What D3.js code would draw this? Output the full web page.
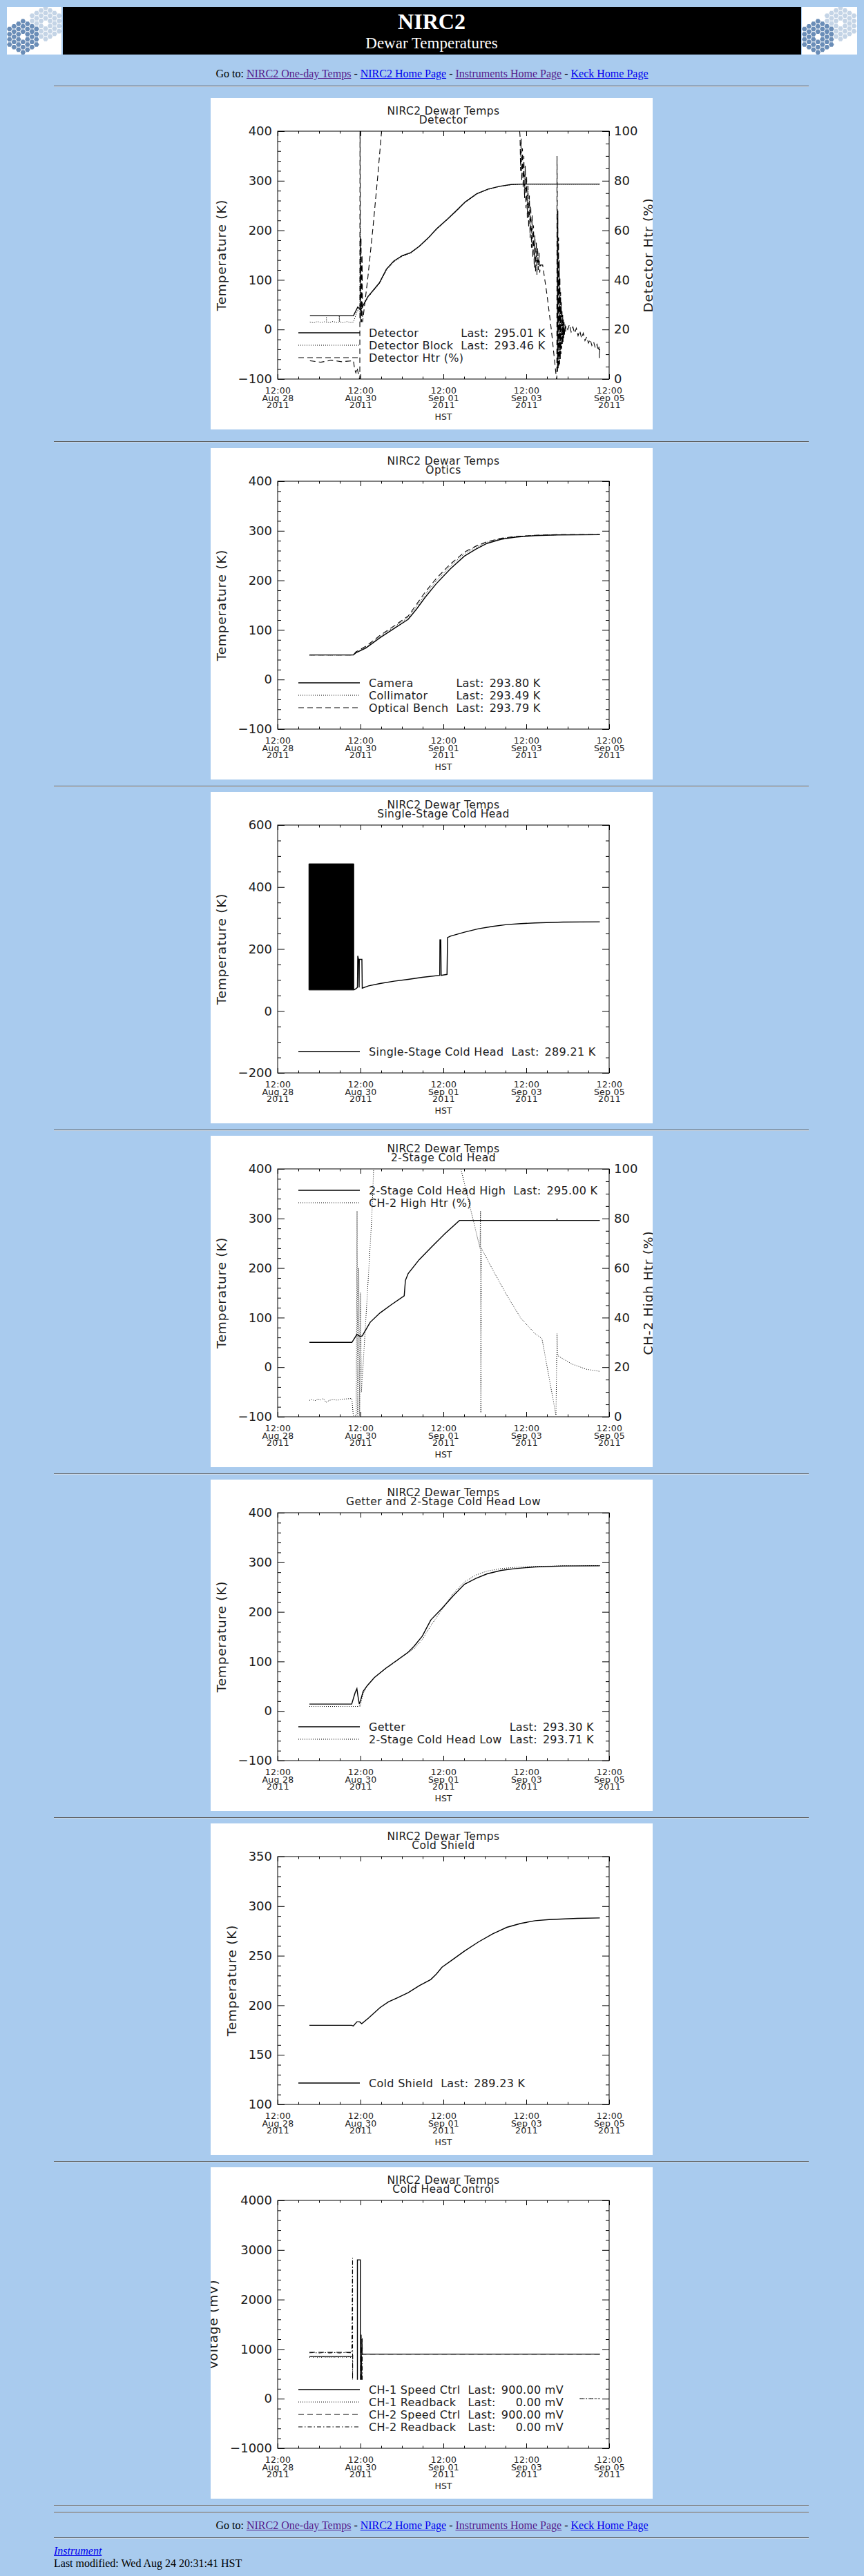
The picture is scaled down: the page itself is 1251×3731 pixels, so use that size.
<!DOCTYPE html>
<html lang="en">
<head>
  <meta charset="UTF-8">
  <title>NIRC2 Dewar Temperatures</title>
  <script src="https://d3js.org/d3.v7.min.js"></script>
  <style>
    body {
      margin: 0;
      width: 1251px;
      height: 3731px;
      overflow: hidden;
      position: relative;
      background: #a9cbee;
      font-family: "Liberation Serif", "Times New Roman", serif;
      color: #000;
    }
    .abs { position: absolute; }
    a { color: #0000ee; }
    a.seen { color: #551a8b; }

    .rule {
      position: absolute;
      left: 78px;
      width: 1093px;
      height: 0;
      border-top: 1px solid #5e5e5e;
      border-bottom: 1px solid #c9d9ea;
    }
    .nav {
      position: absolute;
      left: 0;
      width: 1251px;
      text-align: center;
      font-size: 16px;
      line-height: 18px;
    }
    .foot {
      position: absolute;
      left: 78px;
      font-size: 16px;
      line-height: 18px;
    }

    .plot { position: absolute; left: 305px; background: #fff; }
    .plot text { font-family: "DejaVu Sans", sans-serif; fill: #1c1c1c; }
    .ttl { font-size: 15.5px; letter-spacing: 0.4px; }
    .ytick text { font-size: 18px; }
    .xtick text { font-size: 12.5px; letter-spacing: 0.3px; }
    .axlab { font-size: 18.5px; letter-spacing: 0.8px; }
    .leg text { font-size: 16px; letter-spacing: 0.3px; white-space: pre; }
    .frame { fill: none; stroke: #000; stroke-width: 1; }

    .ln { fill: none; stroke: #000; }
    .solid { stroke-width: 1.4; }
    .dotted { stroke-width: 1; stroke-dasharray: 1 2; }
    .dashed { stroke-width: 1.1; stroke-dasharray: 8 5; }
    .dashdot { stroke-width: 1.1; stroke-dasharray: 6 3 1.5 3; }
    .band { fill: #000; stroke: #000; stroke-width: 1; }
  </style>
</head>
<body>
  <div class="abs" id="banner" style="left:10px; top:10px; width:1231px; height:69px;"></div>

  <div class="nav" style="top:98px">Go to: <a class="seen" href="#">NIRC2 One-day Temps</a> - <a href="#">NIRC2 Home Page</a> - <a class="seen" href="#">Instruments Home Page</a> - <a href="#">Keck Home Page</a></div>
  <div class="rule" style="top:124px"></div>

  <div id="plots"></div>

  <div class="nav" style="top:3649px">Go to: <a class="seen" href="#">NIRC2 One-day Temps</a> - <a href="#">NIRC2 Home Page</a> - <a class="seen" href="#">Instruments Home Page</a> - <a href="#">Keck Home Page</a></div>
  <div class="rule" style="top:3675px"></div>
  <div class="foot" style="top:3686px"><i><a href="#">Instrument</a></i></div>
  <div class="foot" style="top:3704px">Last modified: Wed Aug 24 20:31:41 HST</div>

  <script>
    // ---- data: hours after 12:00 HST Aug 28 2011, value ----
    const dateTicks = [0, 48, 96, 144, 192];

    // Detector (K, % for heater)
    const detector = [[18.7,27.6],[43.9,27.6],[46.4,45.2],[48.1,39.1],[52.2,66],[58.9,93.9],[63,121.7],[67.2,137.9],[72.1,148.6],[77.1,155.1],[82.1,168.1],[87.1,184.3],[92,202.9],[98.7,223.7],[103.6,240],[108.6,257.1],[115.3,273.8],[121.9,283.1],[128.5,288.7],[135.2,292.4],[141.8,293.3],[186.6,293.3]];
    const detectorBlock = [[18.7,15],[21,13.5],[23,16],[25,14],[27,15.5],[28.2,15],[28.2,27.6],[28.4,15],[30,13.8],[32,16.2],[34,14.2],[35.7,15],[35.7,27.6],[35.9,15],[38,13.6],[40,16],[42,14],[43.9,15],[46.4,40],[47.6,36],[47.8,233],[48.0,38],[49.5,47],[52.2,64],[58.9,92],[63,119],[67.2,136],[72.1,147.5],[77.1,154],[82.1,167],[87.1,183],[92,201.5],[98.7,222.5],[103.6,239],[108.6,256],[115.3,273],[121.9,282.5],[128.5,288.3],[135.2,292],[141.8,293],[186.6,293]];
    const detectorHtr = [[18.7,7.4],[25,6.8],[31,7.6],[37,7],[43.9,7.4],[44.6,4],[45.3,2.5],[46.0,4.6],[47.4,0],[47.6,0],[47.7,108],[48.0,23],[48.3,57],[48.6,23],[48.9,50],[49.2,23],[52.2,40.6],[55.2,61],[58,82],[60.2,100],[61,106],[139.5,106],
      [140.4,98],[140.7,84],[141.0,97],[141.4,80],[141.8,93],[142.2,77],[142.6,90],[143.0,73],[143.4,86],[143.8,69],[144.2,82],[144.6,65],[145.0,78],[145.4,61],[145.8,74],[146.2,57],[146.6,70],[147.0,53],[147.4,66],[147.8,49],[148.2,62],[148.6,45],[149.0,58],[149.4,43],[149.8,55],[150.2,42],[150.6,53],[151.0,44],[151.4,51],[151.8,43],[152.2,46],
      [153.5,46],[156,34],[158.5,20],[160.3,8],[161.5,0],[161.7,0],[161.8,90],
      [161.95,76],[162.1,3],[162.3,68],[162.5,4],[162.7,57],[162.9,5],[163.1,48],[163.3,6],[163.5,41],[163.7,8],[163.9,35],[164.1,10],[164.3,31],[164.5,12],[164.7,28],[164.9,14],[165.1,26],[165.3,15],[165.5,24],[165.7,16.5],[165.9,23],[166.1,17.5],[166.4,22],[166.7,19],[167.0,21.5],
      [168,20],[169,22],[170,19],[171,21],[172,18.5],[173,20.5],[174,17.5],[175,19.5],[176,16.5],[177,18.5],[178,15.5],[179,17],[180,14.5],[181,16],[182,13.5],[183,15],[184,12.5],[185,14],[185.6,11.5],[186.1,13],[186.3,8.5],[186.6,12]];

    // Optics (K)
    const camera = [[18.4,49.5],[43.8,49.5],[45.4,54],[51.1,63.4],[59.3,84.3],[67.4,102.9],[75.6,121.4],[80.5,142.3],[85.4,165.6],[91.9,193.4],[100.1,223.6],[108.2,249],[114.8,263],[121.3,274.7],[129.5,283],[137.6,287.2],[149.1,290.4],[162.1,291.8],[186.6,292.3]];
    const collimator = [[18.4,49.5],[43.8,49.5],[45.4,55],[51.1,65],[59.3,87],[67.4,106],[75.6,125],[80.5,148],[85.4,171],[91.9,199],[100.1,229],[108.2,254],[114.8,267],[121.3,277],[129.5,284.5],[137.6,288],[149.1,290.8],[162.1,292],[186.6,292.3]];
    const opticalBench = [[18.4,49.5],[43.8,49.5],[45.4,56],[51.1,67],[59.3,89],[67.4,108],[75.6,128],[80.5,152],[85.4,176],[91.9,204],[100.1,233],[108.2,257],[114.8,269],[121.3,278],[129.5,285],[137.6,288.5],[149.1,291],[162.1,292.2],[186.6,292.5]];

    // Single-stage cold head (K); band = [hour, low, high] of the fast oscillation
    const singleStageBand = [[18.1,67.7,475],[44.1,67.7,475]];
    const singleStage = [[44.1,67.7],[45.4,72],[46.2,76],[46.4,177.7],[46.9,165],[47.2,76],[47.3,166.5],[48.8,166.5],[49.0,73.6],[52.7,81],[59.3,88.5],[67.4,96],[75.6,102],[83.8,108.5],[93.9,115],[94.0,229.7],[94.5,229.7],[94.7,115],[98.1,118],[98.4,237],[100.1,241.6],[108.2,254.3],[116.4,265.4],[124.6,272.9],[132.7,278.8],[140.9,281.8],[149.1,284],[165.4,287],[186.6,287.7]];

    // 2-stage cold head high (K) and heater (%)
    const twoStageHigh = [[18.4,50],[43,50],[45.9,66],[47.8,62],[49,63],[53.6,90.7],[59.3,109.5],[65.8,126],[73.3,144],[74,175],[75.6,189],[82,217],[88.7,241],[96.8,269],[105.3,296],[161.6,296],[161.8,298],[162,296],[186.6,296]];
    const ch2HighHtr = [[18.4,6.6],[20,7.0],[21.5,6.4],[23.3,7.2],[25,6.8],[26.6,7.4],[28,5.8],[29.9,6.6],[32,6.9],[34.8,6.7],[37,7.1],[39.7,7.2],[43,7.4],[43.8,0.5],[45.5,0.3],[46.0,83],[46.4,0.5],[47.0,60],[47.5,0.3],[48.0,50],[48.5,10],[49.5,21],[52,50],[54.5,80],[55.7,102],[56,110],[105,110],[105.8,101],[117.2,68],[117.5,83],[117.7,1.6],[118,68],[124.5,59.4],[132.7,49.1],[140.9,39.7],[149,33.6],[153.1,31.5],[161.2,0.6],[161.8,33.5],[162.3,24.6],[170.4,21.3],[178.6,19.2],[186.6,18.3]];

    // Getter and 2-stage cold head low (K)
    const getter = [[18.4,14],[42.9,14],[43.9,25.6],[44.9,37.2],[45.9,45.1],[46.5,30.2],[47.3,14],[48.2,23.3],[49.5,39.5],[51.9,51.2],[56,67.4],[62.5,86],[69.1,102.3],[75.6,118.6],[78.9,130.2],[83.8,151.2],[88.7,183.7],[95.2,207],[101.7,232.6],[108.2,255.8],[114.8,267.4],[121.3,276.7],[129.5,283.7],[137.6,287.4],[149.1,290.7],[165.4,292.6],[186.6,293]];
    const twoStageLow = [[18.4,9.3],[47.2,9.3],[47.5,12],[47.8,9.3],[49.5,34.9],[51.9,51.2],[56,67.4],[62.5,85],[69.1,101.4],[75.6,117.7],[78.9,125.6],[83.8,144.2],[88.7,172.1],[95.2,204.7],[101.7,237.2],[108.2,260.5],[114.8,274.4],[121.3,282.3],[129.5,287.4],[137.6,289.8],[149.1,291.6],[165.4,293],[186.6,293.5]];

    // Cold shield (K)
    const coldShield = [[18.4,179.8],[42.9,179.8],[43.8,179.1],[45.9,183.3],[47.5,183.3],[48.7,181.4],[52.7,187.2],[59.3,197.7],[64.2,203.5],[69.1,207.4],[75.6,212.8],[82.1,219.8],[88.7,226],[91.9,231.4],[95.2,238.4],[101.7,246.5],[108.2,254.7],[116.4,264],[124.6,272.1],[132.7,278.6],[140.9,282.6],[149.1,285.3],[157.2,286.5],[173.6,287.7],[186.6,288.1]];

    // Cold head control (mV); null = no samples
    const ch1Speed = [[18.4,850],[43.0,850],null,[46.2,384],[46.2,2800],[47.9,2800],[47.9,384],null,[48.6,900],[186.6,900]];
    const ch1Readback = [[18.4,832],[19.6,846],[20.8,828],[22,844],[23.2,826],[24.4,842],[25.6,830],[26.8,846],[28,828],[29.2,840],[30.4,826],[31.6,844],[32.8,830],[34,846],[35.2,828],[36.4,842],[37.6,826],[38.8,844],[40,830],[41.2,846],[42.4,828],[43,836],null,[175,0],[186.6,0]];
    const ch2Speed = [[18.4,935],[43.0,935],null,[48.4,384],[48.4,1290],[48.7,384],[48.9,1200],[49.1,900],[186.6,900]];
    const ch2Readback = [[18.4,925],[21,930],[24,922],[27,932],[30,924],[33,930],[36,922],[39,931],[43,926],[43.4,2840],[43.4,384],[43.5,925],null,[49.0,384],[49.0,1220],null,[175,0],[186.6,0]];

    // ---- panels ----
    const panels = [
      { sub: "Detector", yDomain: [-100, 400], yStep: 100, yMinor: 5, yLabel: "Temperature (K)",
        y2: { domain: [0, 100], step: 20, minor: 4, label: "Detector Htr (%)" },
        series: [
          { name: "Detector", last: "295.01 K", data: detector, style: "solid" },
          { name: "Detector Block", last: "293.46 K", data: detectorBlock, style: "dotted" },
          { name: "Detector Htr (%)", data: detectorHtr, style: "dashed", right: true }] },
      { sub: "Optics", yDomain: [-100, 400], yStep: 100, yMinor: 5, yLabel: "Temperature (K)",
        series: [
          { name: "Camera", last: "293.80 K", data: camera, style: "solid" },
          { name: "Collimator", last: "293.49 K", data: collimator, style: "dotted" },
          { name: "Optical Bench", last: "293.79 K", data: opticalBench, style: "dashed" }] },
      { sub: "Single-Stage Cold Head", yDomain: [-200, 600], yStep: 200, yMinor: 4, yLabel: "Temperature (K)",
        band: singleStageBand,
        series: [{ name: "Single-Stage Cold Head", last: "289.21 K", data: singleStage, style: "solid" }] },
      { sub: "2-Stage Cold Head", yDomain: [-100, 400], yStep: 100, yMinor: 5, yLabel: "Temperature (K)",
        y2: { domain: [0, 100], step: 20, minor: 4, label: "CH-2 High Htr (%)" }, legendTop: true,
        series: [
          { name: "2-Stage Cold Head High", last: "295.00 K", data: twoStageHigh, style: "solid" },
          { name: "CH-2 High Htr (%)", data: ch2HighHtr, style: "dotted", right: true }] },
      { sub: "Getter and 2-Stage Cold Head Low", yDomain: [-100, 400], yStep: 100, yMinor: 5, yLabel: "Temperature (K)",
        series: [
          { name: "Getter", last: "293.30 K", data: getter, style: "solid" },
          { name: "2-Stage Cold Head Low", last: "293.71 K", data: twoStageLow, style: "dotted" }] },
      { sub: "Cold Shield", yDomain: [100, 350], yStep: 50, yMinor: 5, yLabel: "Temperature (K)",
        series: [{ name: "Cold Shield", last: "289.23 K", data: coldShield, style: "solid" }] },
      { sub: "Cold Head Control", yDomain: [-1000, 4000], yStep: 1000, yMinor: 5, yLabel: "Voltage (mV)",
        series: [
          { name: "CH-1 Speed Ctrl", last: "900.00 mV", data: ch1Speed, style: "solid" },
          { name: "CH-1 Readback", last: "0.00 mV", data: ch1Readback, style: "dotted" },
          { name: "CH-2 Speed Ctrl", last: "900.00 mV", data: ch2Speed, style: "dashed" },
          { name: "CH-2 Readback", last: "0.00 mV", data: ch2Readback, style: "dashdot" }] }
    ];

    const panelTops = [142, 649, 1147, 1645, 2143, 2641, 3139];
    const W = 640, H = 480, X0 = 97, X1 = 577, Y0 = 48, Y1 = 407;

    const start = new Date(2011, 7, 28, 12, 0, 0);
    const hourToDate = h => new Date(start.getTime() + h * 3600e3);
    const fmtTime = d3.timeFormat("%H:%M"), fmtDay = d3.timeFormat("%b %d"), fmtYear = d3.timeFormat("%Y");
    const signed = v => v < 0 ? "\u2212" + Math.abs(v) : String(v);

    function tickSets(domain, step, minor) {
      const majors = d3.range(domain[0], domain[1] + step / 2, step);
      const all = d3.range(domain[0], domain[1] + step / (2 * minor), step / minor);
      const minors = all.filter(v => !majors.some(m => Math.abs(m - v) < 1e-6));
      return { majors, minors };
    }

    const x = d3.scaleTime().domain([start, hourToDate(192)]).range([X0, X1]);
    const xMajor = dateTicks.map(hourToDate);
    const xMinor = d3.range(0, 193, 12).filter(h => !dateTicks.includes(h)).map(hourToDate);

    function strip(g) { g.select(".domain").remove(); g.attr("font-size", null).attr("font-family", null).attr("color", "#000"); }

    panels.forEach((p, i) => {
      const svg = d3.select("#plots").append("svg")
        .attr("class", "plot").attr("width", W).attr("height", H)
        .style("top", panelTops[i] + "px");

      const y = d3.scaleLinear().domain(p.yDomain).range([Y1, Y0]);
      const y2 = p.y2 ? d3.scaleLinear().domain(p.y2.domain).range([Y1, Y0]) : null;
      const yt = tickSets(p.yDomain, p.yStep, p.yMinor);

      // title
      svg.append("text").attr("class", "ttl").attr("x", (X0 + X1) / 2).attr("y", 23.5)
        .attr("text-anchor", "middle").text("NIRC2 Dewar Temps");
      svg.append("text").attr("class", "ttl").attr("x", (X0 + X1) / 2).attr("y", 37)
        .attr("text-anchor", "middle").text(p.sub);

      // x axes
      const gB = svg.append("g").attr("class", "xtick").attr("transform", `translate(0,${Y1})`)
        .call(d3.axisBottom(x).tickValues(xMajor).tickSize(-7).tickPadding(12));
      strip(gB);
      gB.selectAll(".tick text").each(function (d) {
        const t = d3.select(this).text(null).attr("dy", null);
        t.append("tspan").attr("x", 0).attr("dy", "0.71em").text(fmtTime(d));
        t.append("tspan").attr("x", 0).attr("dy", 10.7).text(fmtDay(d));
        t.append("tspan").attr("x", 0).attr("dy", 10.7).text(fmtYear(d));
      });
      strip(svg.append("g").attr("transform", `translate(0,${Y1})`)
        .call(d3.axisBottom(x).tickValues(xMinor).tickSize(-3.5).tickFormat("")));
      strip(svg.append("g").attr("transform", `translate(0,${Y0})`)
        .call(d3.axisTop(x).tickValues(xMajor).tickSize(-7).tickFormat("")));
      strip(svg.append("g").attr("transform", `translate(0,${Y0})`)
        .call(d3.axisTop(x).tickValues(xMinor).tickSize(-3.5).tickFormat("")));
      svg.append("text").attr("class", "xtick").attr("x", (X0 + X1) / 2).attr("y", 465.5)
        .attr("text-anchor", "middle").style("font-size", "12.5px").text("HST");

      // left axis
      const gL = svg.append("g").attr("class", "ytick").attr("transform", `translate(${X0},0)`)
        .call(d3.axisLeft(y).tickValues(yt.majors).tickSize(-10).tickPadding(8).tickFormat(signed));
      strip(gL);
      strip(svg.append("g").attr("transform", `translate(${X0},0)`)
        .call(d3.axisLeft(y).tickValues(yt.minors).tickSize(-5).tickFormat("")));
      const leftEdge = X0 + gL.node().getBBox().x;
      svg.append("text").attr("class", "axlab")
        .attr("transform", `translate(${leftEdge - 18},${(Y0 + Y1) / 2}) rotate(-90)`)
        .attr("text-anchor", "middle").text(p.yLabel);

      // right axis
      if (y2) {
        const t2 = tickSets(p.y2.domain, p.y2.step, p.y2.minor);
        const gR = svg.append("g").attr("class", "ytick").attr("transform", `translate(${X1},0)`)
          .call(d3.axisRight(y2).tickValues(t2.majors).tickSize(-10).tickPadding(7));
        strip(gR);
        strip(svg.append("g").attr("transform", `translate(${X1},0)`)
          .call(d3.axisRight(y2).tickValues(t2.minors).tickSize(-5).tickFormat("")));
        const b = gR.node().getBBox();
        svg.append("text").attr("class", "axlab")
          .attr("transform", `translate(${X1 + b.x + b.width + 22},${(Y0 + Y1) / 2}) rotate(-90)`)
          .attr("text-anchor", "middle").text(p.y2.label);
      } else {
        strip(svg.append("g").attr("transform", `translate(${X1},0)`)
          .call(d3.axisRight(y).tickValues(yt.majors).tickSize(-10).tickFormat("")));
        strip(svg.append("g").attr("transform", `translate(${X1},0)`)
          .call(d3.axisRight(y).tickValues(yt.minors).tickSize(-5).tickFormat("")));
      }

      svg.append("rect").attr("class", "frame").attr("x", X0).attr("y", Y0)
        .attr("width", X1 - X0).attr("height", Y1 - Y0);

      // data
      const clipId = "clip" + i;
      svg.append("clipPath").attr("id", clipId).append("rect")
        .attr("x", X0).attr("y", Y0).attr("width", X1 - X0).attr("height", Y1 - Y0);
      const gData = svg.append("g").attr("clip-path", `url(#${clipId})`);

      if (p.band) {
        gData.append("path").attr("class", "band").datum(p.band)
          .attr("d", d3.area().x(d => x(hourToDate(d[0]))).y0(d => y(d[1])).y1(d => y(d[2])));
      }
      p.series.forEach(s => {
        const ys = s.right ? y2 : y;
        const line = d3.line().defined(d => d !== null)
          .x(d => x(hourToDate(d[0]))).y(d => ys(d[1]));
        gData.append("path").attr("class", "ln " + s.style).datum(s.data).attr("d", line);
      });

      // legend
      const leg = svg.append("g").attr("class", "leg");
      const n = p.series.length;
      const rowY = k => p.legendTop ? 79 + k * 18 : 376 - (n - 1 - k) * 18;
      const names = p.series.map((s, k) => {
        leg.append("line").attr("class", "ln " + s.style)
          .attr("x1", 127).attr("x2", 216).attr("y1", rowY(k)).attr("y2", rowY(k));
        return leg.append("text").attr("x", 229).attr("y", rowY(k) + 5.5).text(s.name);
      });
      const withLast = p.series.map((s, k) => [s, k]).filter(([s]) => s.last);
      const nameW = d3.max(withLast, ([s, k]) => names[k].node().getComputedTextLength()) || 0;
      const lastX = 229 + nameW + 11;
      const valTexts = withLast.map(([s, k]) => {
        const lt = leg.append("text").attr("x", lastX).attr("y", rowY(k) + 5.5).text("Last:");
        const vt = leg.append("text").attr("y", rowY(k) + 5.5).attr("text-anchor", "end").text(s.last);
        return [lt, vt];
      });
      if (valTexts.length) {
        const lastW = valTexts[0][0].node().getComputedTextLength();
        const valW = d3.max(valTexts, ([, vt]) => vt.node().getComputedTextLength());
        valTexts.forEach(([, vt]) => vt.attr("x", lastX + lastW + 8 + valW));
      }

      // separator below each plot
      d3.select("body").append("div").attr("class", "rule")
        .style("top", (i === 0 ? 639 : panelTops[i] + 489) + "px");
    });
    d3.select("body").append("div").attr("class", "rule").style("top", "3638px");

    // ---- banner ----
    const banner = d3.select("#banner");
    function drawLogo(left, width) {
      const s = banner.append("svg").attr("class", "abs").style("left", left + "px").style("top", "0px")
        .attr("width", width).attr("height", 69);
      s.append("rect").attr("width", width).attr("height", 69).attr("fill", "#fff");
      const size = 4.33, r = 3.75;
      const hex = d3.range(6).map(k => [r * Math.cos(k * Math.PI / 3), r * Math.sin(k * Math.PI / 3)]);
      const cells = [];
      for (let q = -3; q <= 3; q++) for (let rr = -3; rr <= 3; rr++) {
        if (Math.abs(q + rr) > 3 || (q === 0 && rr === 0)) continue;
        cells.push([1.5 * size * q, Math.sqrt(3) * size * (rr + q / 2)]);
      }
      [[56, 24, "#c4d4e6"], [23.3, 43.3, "#6a8db7"]].forEach(([cx, cy, col]) => {
        s.append("g").selectAll("path").data(cells).join("path")
          .attr("d", c => "M" + hex.map(h => [cx + c[0] + h[0], cy + c[1] + h[1]].join(",")).join("L") + "Z")
          .attr("fill", col);
      });
    }
    drawLogo(0, 79);
    banner.append("div").attr("class", "abs")
      .style("left", "81px").style("top", "0px").style("width", "1069px").style("height", "69px")
      .style("background", "#000");
    drawLogo(1151, 80);
    const head = banner.append("svg").attr("class", "abs").style("left", "81px").style("top", "0px")
      .attr("width", 1069).attr("height", 69);
    head.append("text").attr("x", 534).attr("y", 31.7).attr("text-anchor", "middle")
      .attr("fill", "#fff").attr("font-family", "Liberation Serif").attr("font-weight", "bold")
      .attr("font-size", 32).text("NIRC2");
    head.append("text").attr("x", 534).attr("y", 60).attr("text-anchor", "middle")
      .attr("fill", "#fff").attr("font-family", "Liberation Serif")
      .attr("font-size", 23).text("Dewar Temperatures");
  </script>
</body>
</html>
